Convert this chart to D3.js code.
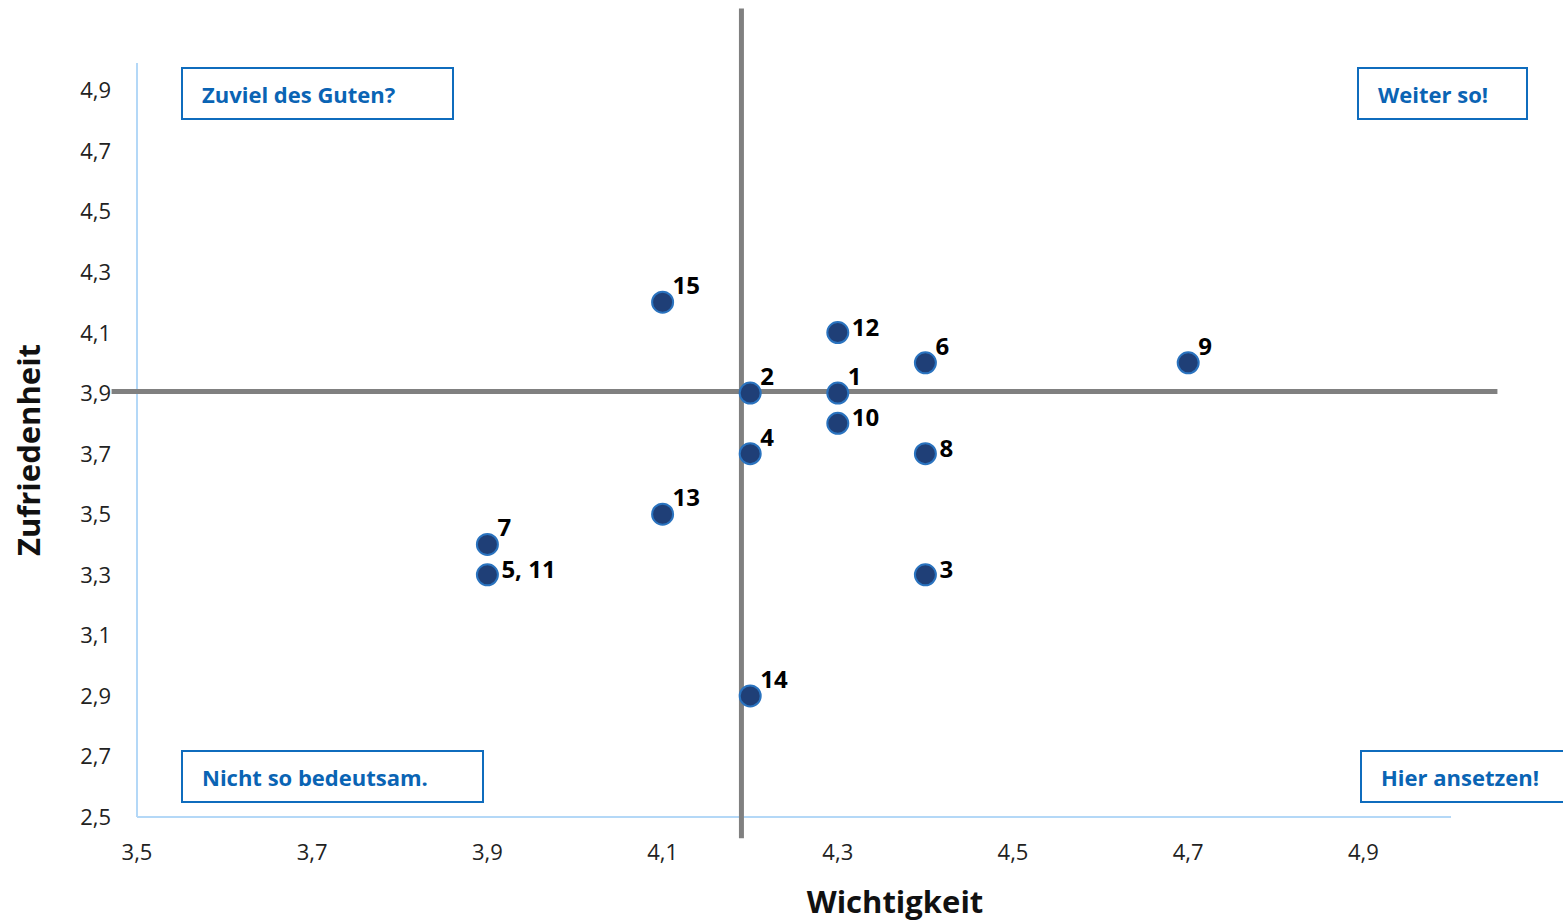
<!DOCTYPE html>
<html><head><meta charset="utf-8">
<script src="https://cdn.jsdelivr.net/npm/d3@7"></script>
<style>
html,body{margin:0;padding:0;background:#fff;}
svg{display:block;font-family:"Open Sans","Noto Sans",sans-serif;}
</style></head>
<body>
<svg id="chart" width="1563" height="922"></svg>
<script>
// ---- data ----
const labels = ["1","2","3","4","5, 11","6","7","8","9","10","12","13","14","15"];
const wichtigkeit = [4.3,4.2,4.4,4.2,3.9,4.4,3.9,4.4,4.7,4.3,4.3,4.1,4.2,4.1];
const zufriedenheit = [3.9,3.9,3.3,3.7,3.3,4.0,3.4,3.7,4.0,3.8,4.1,3.5,2.9,4.2];
const labelPlacement = ["up","up","right","up","right","up","up","right","up","right","right","up","up","up"];
const xTicks = [3.5,3.7,3.9,4.1,4.3,4.5,4.7,4.9];
const yTicks = [2.5,2.7,2.9,3.1,3.3,3.5,3.7,3.9,4.1,4.3,4.5,4.7,4.9];
const meanX = 4.19, meanY = 3.905;
const quadrants = [
  {text:"Zuviel des Guten?", corner:"tl"},
  {text:"Weiter so!", corner:"tr"},
  {text:"Nicht so bedeutsam.", corner:"bl"},
  {text:"Hier ansetzen!", corner:"br"}
];

// ---- layout ----
const svg = d3.select("#chart");
const x = d3.scaleLinear().domain([3.5,5.0]).range([137,1451]);
const y = d3.scaleLinear().domain([2.5,5.0]).range([817,60]);
const fmt = d => d3.format(".1f")(d).replace(".", ",");

// axes lines
const axisColor = "#b4d8f7";
svg.append("line").attr("x1",x(3.5)).attr("x2",x(3.5)).attr("y1",y(2.5)).attr("y2",y(4.99))
  .attr("stroke",axisColor).attr("stroke-width",2);
svg.append("line").attr("x1",x(3.5)).attr("x2",x(5.0)).attr("y1",y(2.5)).attr("y2",y(2.5))
  .attr("stroke",axisColor).attr("stroke-width",2);

// tick labels
svg.append("g").selectAll("text").data(yTicks).join("text")
  .attr("x",111).attr("y",d=>y(d)+8).attr("text-anchor","end")
  .attr("font-size",22).attr("fill","#222").text(fmt);
svg.append("g").selectAll("text").data(xTicks).join("text")
  .attr("x",d=>x(d)).attr("y",860).attr("text-anchor","middle")
  .attr("font-size",22).attr("fill","#222").text(fmt);

// axis titles
svg.append("text").attr("x",895).attr("y",913).attr("text-anchor","middle")
  .attr("font-size",31).attr("font-weight","bold").attr("fill","#111").text("Wichtigkeit");
svg.append("text").attr("transform","translate(40,450) rotate(-90)").attr("text-anchor","middle")
  .attr("font-size",31).attr("font-weight","bold").attr("fill","#111").text("Zufriedenheit");

// mean lines
svg.append("line").attr("x1",x(meanX)).attr("x2",x(meanX)).attr("y1",y(5.17)).attr("y2",y(2.43))
  .attr("stroke","#808080").attr("stroke-width",5);
svg.append("line").attr("x1",x(3.471)).attr("x2",x(5.053)).attr("y1",y(meanY)).attr("y2",y(meanY))
  .attr("stroke","#808080").attr("stroke-width",5);

// quadrant boxes
const boxBlue = "#0f6cbd";
const boxGeom = {tl:{x:182,y:68,w:271,h:51}, tr:{x:1358,y:68,w:169,h:51},
                 bl:{x:182,y:751,w:301,h:51}, br:{x:1361,y:751,w:210,h:51}};
quadrants.forEach(q=>{
  const g = boxGeom[q.corner];
  svg.append("rect").attr("x",g.x).attr("y",g.y).attr("width",g.w).attr("height",g.h)
    .attr("fill","#fff").attr("stroke",boxBlue).attr("stroke-width",2);
  svg.append("text").attr("x",g.x+20).attr("y",g.y+35).attr("font-size",22).attr("font-weight","bold")
    .attr("fill","#0a64b4").text(q.text);
});

// points
const pts = labels.map((l,i)=>({l, wx:wichtigkeit[i], zy:zufriedenheit[i], p:labelPlacement[i]}));
svg.append("g").selectAll("circle").data(pts).join("circle")
  .attr("cx",d=>x(d.wx)).attr("cy",d=>y(d.zy)).attr("r",10.5)
  .attr("fill","#1f3f77").attr("stroke","#2a73bf").attr("stroke-width",2);
svg.append("g").selectAll("text").data(pts).join("text")
  .attr("x",d=>x(d.wx)+(d.p==="up"?10:14))
  .attr("y",d=>y(d.zy)+(d.p==="up"?-8:3))
  .attr("font-size",24).attr("font-weight","bold").attr("fill","#000").text(d=>d.l);
</script>
</body></html>
